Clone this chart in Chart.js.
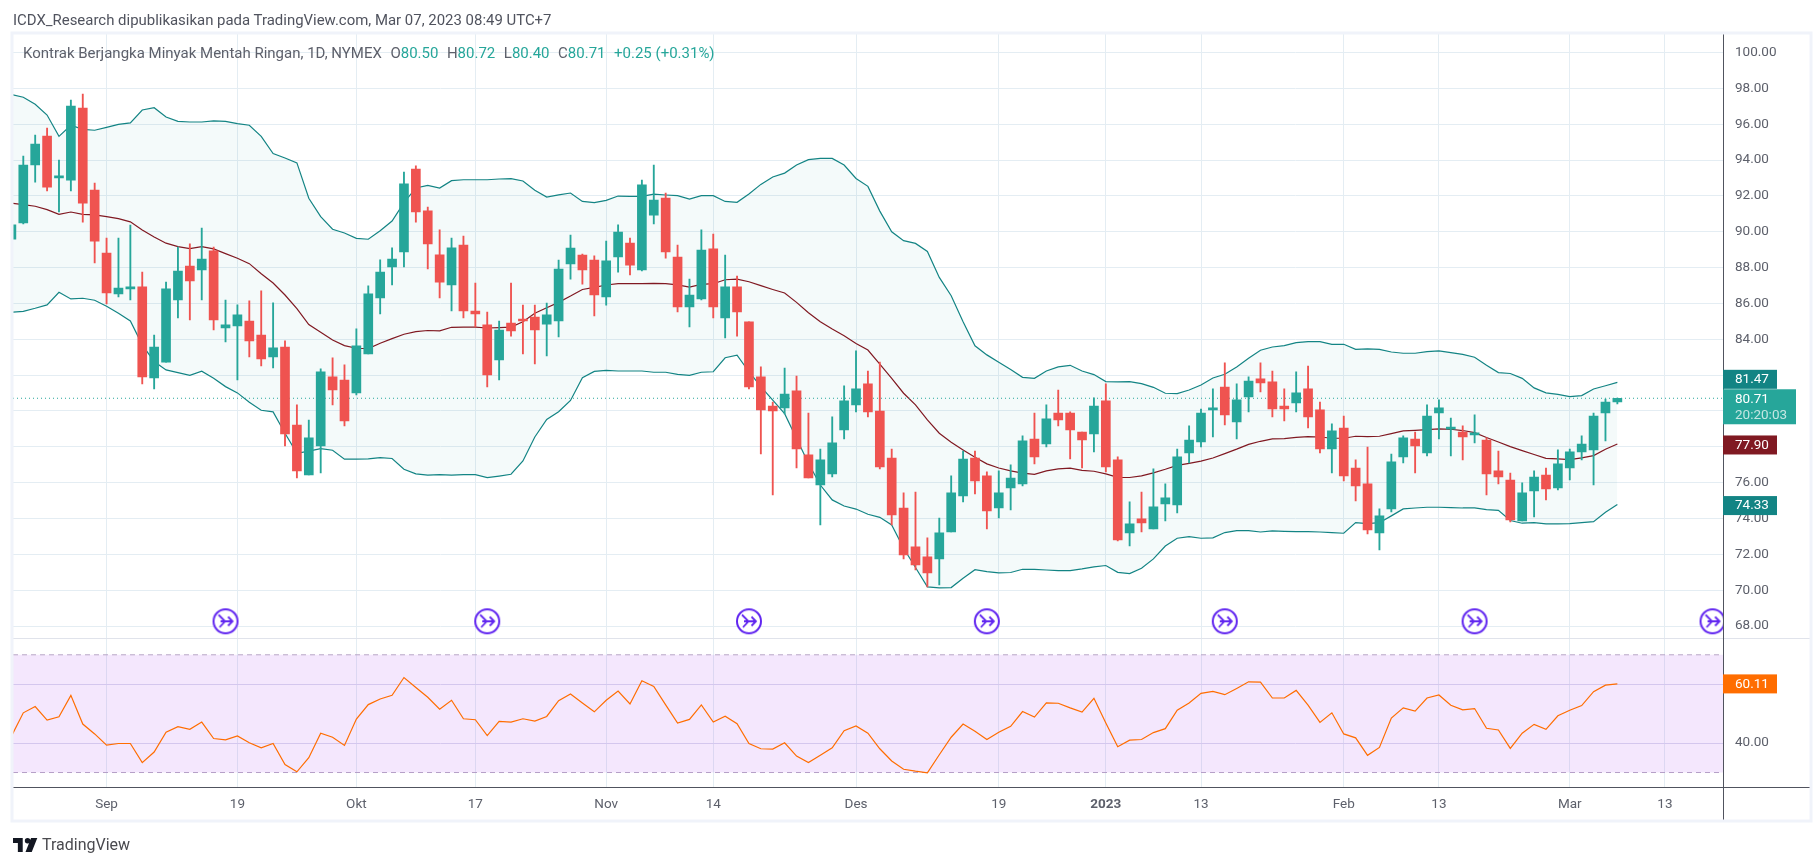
<!DOCTYPE html>
<html>
<head>
<meta charset="utf-8">
<title>Kontrak Berjangka Minyak Mentah Ringan</title>
<script src="https://cdn.jsdelivr.net/npm/chart.js@4"></script>
<style>
    html, body { margin: 0; padding: 0; background: #fff; width: 1813px; height: 866px; overflow: hidden; }
    body { font-family: Roboto, sans-serif; position: relative; }
    #chart { position: absolute; left: 0; top: 0; }
    .txt { position: absolute; white-space: pre; line-height: 18px; }
    #publisher { left: 13px; top: 11px; font-size: 14.95px; color: #50535e; }
    #legend { left: 23px; top: 44px; font-size: 15px; color: #5d606b; }
    #legend span { color: #26a69a; }
    #legend b { font-weight: normal; margin-left: 8.5px; }
    #brand { left: 42px; top: 836px; font-size: 16px; color: #4a4a4f; }
    #logo { position: absolute; left: 13px; top: 838px; }
</style>
</head>
<body>
<canvas id="chart" width="1813" height="866"></canvas>
<div class="txt" id="publisher">ICDX_Research dipublikasikan pada TradingView.com, Mar 07, 2023 08:49 UTC+7</div>
<div class="txt" id="legend">Kontrak Berjangka Minyak Mentah Ringan, 1D, NYMEX<b>O<span>80.50</span></b><b>H<span>80.72</span></b><b>L<span>80.40</span></b><b>C<span>80.71</span></b><b><span>+0.25 (+0.31%)</span></b></div>
<svg id="logo" width="25" height="14" viewBox="0 0 36 20"><path fill="#131722" d="M0 0h14v20H7V7H0zM21 0a4 4 0 1 1 0 8 4 4 0 0 1 0-8zM26 0h9l-8 20h-9z"/></svg>
<div class="txt" id="brand">TradingView</div>
<script>
    // Daily candles
    const opens = [89.59,90.49,93.72,95.34,93.00,92.88,96.90,92.33,88.81,86.53,86.81,86.92,81.84,82.73,86.19,88.09,87.87,88.93,84.63,84.74,85.02,84.24,83.02,83.57,79.22,76.43,78.05,81.90,81.73,81.01,83.18,86.31,88.04,88.87,93.50,91.16,88.71,87.03,89.26,85.58,84.80,82.85,84.91,85.08,85.24,84.85,85.02,88.20,88.70,88.42,86.36,88.59,89.37,87.87,90.93,91.88,88.59,85.80,86.25,89.04,85.19,86.92,84.97,81.90,80.28,80.17,81.12,77.55,75.88,76.49,78.94,80.34,81.51,80.00,77.38,74.59,72.42,71.86,71.75,73.25,75.26,77.38,76.38,74.59,75.71,75.93,78.44,78.16,79.89,79.89,78.83,78.72,80.56,77.27,73.20,73.98,73.42,74.82,74.76,77.66,78.27,80.06,81.34,79.39,80.78,81.79,81.62,80.28,80.45,81.23,80.06,77.88,79.05,76.82,75.93,73.20,74.54,77.44,78.44,77.66,79.89,78.99,78.83,78.66,78.38,76.66,76.15,73.87,75.54,76.43,75.71,76.82,77.72,77.83,79.89,80.50];
    const highs = [90.50,94.22,95.39,95.78,94.00,97.35,97.68,92.72,89.65,89.65,90.37,87.75,84.24,87.19,89.15,89.32,90.21,89.15,86.19,85.92,86.14,86.70,86.03,83.91,80.34,79.50,82.35,82.96,82.57,84.58,86.98,88.43,89.10,93.33,93.67,91.38,90.10,89.65,89.76,87.14,85.52,85.02,87.14,85.91,85.91,86.02,88.42,89.82,88.76,88.65,89.48,90.38,89.65,92.88,93.72,92.16,89.26,87.36,90.10,89.87,88.70,87.53,84.97,82.46,80.50,82.40,81.95,79.89,77.88,79.67,81.40,83.35,82.23,82.73,77.88,75.43,75.48,72.92,74.03,76.38,77.77,77.77,76.60,76.66,76.99,78.61,79.89,80.34,81.17,79.95,78.83,80.73,81.51,77.44,74.93,75.48,76.77,75.93,77.88,79.17,80.11,81.23,82.68,81.51,81.90,82.68,82.23,81.23,82.18,82.51,80.50,79.28,79.72,77.27,77.99,74.54,77.60,78.61,78.83,80.34,80.62,79.61,79.17,79.78,78.50,77.77,76.54,75.99,76.66,76.82,77.83,77.88,78.61,79.89,80.67,80.72];
    const lows = [89.50,90.43,92.77,92.27,91.10,92.27,90.54,88.26,85.97,86.36,86.19,81.51,81.23,82.73,85.19,85.08,86.19,84.52,83.85,81.73,83.02,82.51,82.40,78.05,76.27,76.43,76.55,80.34,79.17,80.90,83.18,85.41,87.03,88.04,90.54,87.92,86.31,85.58,85.19,84.69,81.34,81.73,84.18,83.18,82.62,83.07,84.13,87.36,87.08,85.30,85.91,87.75,87.59,87.81,90.43,88.53,85.52,84.69,86.19,85.19,84.07,84.18,81.23,77.60,75.32,79.83,76.82,76.27,73.64,76.32,78.44,79.95,79.67,76.77,73.64,71.75,71.13,70.19,70.30,73.25,74.93,75.37,73.42,74.03,74.48,75.82,77.05,77.99,79.17,77.32,76.82,77.72,76.60,72.75,72.47,73.25,73.42,73.87,74.31,77.10,77.99,78.55,79.22,78.44,79.95,81.06,79.67,79.44,79.95,79.05,77.66,76.54,76.10,74.98,73.14,72.25,74.37,77.10,76.54,77.49,78.44,77.49,77.27,78.22,75.32,75.93,73.81,73.87,74.09,75.04,75.60,76.15,77.27,75.88,78.33,80.40];
    const closes = [90.38,93.72,94.89,92.49,93.05,97.01,91.60,89.48,86.58,86.86,86.92,81.90,83.57,86.81,87.81,87.25,88.48,85.08,84.80,85.36,83.91,82.90,83.52,78.72,76.66,78.50,82.18,81.18,79.45,83.63,86.53,87.75,88.48,92.67,91.10,89.32,87.19,89.10,85.58,85.41,82.01,84.52,84.46,85.02,84.52,85.36,87.92,89.09,87.87,86.47,88.37,89.98,88.14,92.61,91.77,88.87,85.80,86.47,88.98,85.80,86.92,85.52,81.34,80.06,80.00,80.95,77.88,76.27,77.27,78.22,80.56,81.23,79.95,76.88,74.20,71.97,71.41,70.97,73.20,75.43,77.32,76.10,74.42,75.43,76.26,78.33,77.44,79.56,79.50,78.94,78.38,80.28,76.88,72.81,73.70,73.76,74.65,75.15,77.44,78.38,79.89,80.17,79.78,80.62,81.67,81.56,80.11,80.11,81.01,79.67,77.88,78.89,76.38,75.82,73.36,74.15,77.16,78.50,78.05,79.72,80.17,79.05,78.55,78.78,76.49,76.32,73.92,75.43,76.32,75.65,77.05,77.72,78.16,79.72,80.50,80.71];

    // Bollinger bands
    const bbUpper = [97.66,97.50,97.11,96.51,95.32,95.94,95.71,95.66,95.82,95.99,96.07,96.79,96.92,96.40,96.16,96.12,96.12,96.18,96.16,96.03,95.94,95.32,94.36,94.11,93.84,91.87,90.84,90.14,89.93,89.63,89.58,90.06,90.60,91.62,92.44,92.59,92.44,92.85,92.90,92.90,92.90,92.94,92.96,92.83,92.31,91.93,92.06,92.16,91.69,91.62,91.75,91.99,91.97,91.97,92.10,92.05,92.01,91.82,92.01,92.01,91.69,91.64,92.10,92.64,93.05,93.27,93.72,94.02,94.09,94.09,93.72,92.97,92.53,91.15,90.00,89.50,89.35,88.90,87.45,86.43,84.98,83.64,83.13,82.72,82.31,81.88,81.82,82.23,82.46,82.55,82.23,82.03,81.64,81.62,81.64,81.53,81.32,80.99,80.97,81.17,81.45,81.84,82.05,82.46,82.94,83.39,83.57,83.65,83.81,83.87,83.87,83.72,83.72,83.44,83.46,83.44,83.29,83.22,83.22,83.31,83.35,83.26,83.16,83.00,82.55,82.14,82.09,81.82,81.29,81.01,80.93,80.80,80.86,81.23,81.41,81.60];
    const bbBasis = [91.59,91.51,91.42,91.23,90.97,91.10,90.97,90.94,90.84,90.73,90.55,90.10,89.71,89.36,89.17,89.06,89.17,89.04,88.78,88.52,88.22,87.66,87.14,86.47,85.71,84.82,84.39,83.96,83.65,83.50,83.48,83.78,84.04,84.28,84.43,84.49,84.47,84.67,84.68,84.68,84.63,84.65,84.68,84.98,85.45,85.76,86.06,86.41,86.78,86.90,87.03,87.10,87.10,87.10,87.12,87.10,87.04,86.91,87.06,87.10,87.32,87.36,87.21,86.99,86.78,86.58,86.06,85.48,84.98,84.57,84.20,83.77,83.40,82.62,81.82,80.99,80.34,79.50,78.76,78.26,77.83,77.42,77.05,76.82,76.66,76.53,76.47,76.66,76.77,76.81,76.69,76.64,76.49,76.30,76.29,76.38,76.55,76.75,76.97,77.08,77.20,77.38,77.62,77.87,78.14,78.31,78.44,78.46,78.53,78.57,78.55,78.48,78.48,78.59,78.57,78.59,78.74,78.89,78.92,78.96,79.00,78.98,78.91,78.79,78.52,78.27,78.01,77.79,77.57,77.36,77.33,77.29,77.38,77.51,77.87,78.16];
    const bbLower = [85.51,85.56,85.73,85.92,86.62,86.25,86.29,86.18,85.84,85.45,85.02,83.69,82.76,82.29,82.14,81.99,82.22,81.83,81.36,81.01,80.49,80.04,79.95,78.76,77.64,77.76,77.90,77.81,77.31,77.31,77.33,77.40,77.35,76.75,76.49,76.42,76.45,76.42,76.45,76.45,76.28,76.37,76.47,77.21,78.55,79.53,79.96,80.59,81.86,82.21,82.27,82.23,82.23,82.23,82.16,82.16,82.04,81.99,82.16,82.19,82.97,83.12,82.19,81.36,80.61,79.85,78.47,77.08,75.87,75.04,74.70,74.53,74.24,74.07,73.64,72.34,71.27,70.19,70.13,70.15,70.67,71.15,71.04,70.97,70.99,71.17,71.17,71.13,71.10,71.10,71.19,71.30,71.38,71.00,70.93,71.23,71.75,72.47,72.90,72.99,72.90,72.92,73.22,73.33,73.33,73.25,73.31,73.29,73.27,73.27,73.25,73.22,73.18,73.77,73.72,73.77,74.15,74.54,74.59,74.63,74.63,74.61,74.59,74.59,74.50,74.46,73.89,73.74,73.77,73.70,73.70,73.72,73.77,73.83,74.35,74.78];

    // RSI pane
    const rsiValues = [42.33,50.28,52.41,47.82,48.94,56.22,46.47,43.11,39.30,39.86,39.86,33.36,36.95,43.67,45.58,44.68,47.15,41.54,41.09,42.44,40.09,38.41,39.86,32.69,30.23,35.04,43.34,41.99,39.19,48.15,53.08,54.99,56.22,62.27,58.91,55.55,51.51,54.54,48.27,47.93,42.55,47.37,47.15,48.27,47.48,49.05,54.43,56.67,53.64,50.62,54.54,57.68,53.31,61.15,59.25,52.97,46.81,48.04,52.97,47.15,49.16,46.59,39.86,38.07,37.96,40.09,35.60,33.36,35.83,38.41,44.23,45.80,43.34,38.07,33.92,31.12,30.45,29.89,36.05,41.99,46.47,44.01,41.21,43.67,45.69,50.73,48.83,53.64,53.53,51.96,50.51,55.21,46.81,38.74,40.98,41.21,43.56,44.90,51.18,53.64,56.89,57.56,56.44,58.57,60.81,60.70,55.32,55.32,57.90,52.86,47.03,50.28,43.11,41.77,35.83,38.52,48.49,51.96,50.84,55.32,56.33,52.86,51.29,51.74,45.02,44.46,38.18,43.34,46.36,44.68,49.27,51.18,52.75,57.45,59.69,60.11];
    const rsiBandLevels = [70, 30];

    // Axis ticks
    const timeTicks = [8, 19, 29, 39, 50, 59, 71, 83, 92, 100, 112, 120, 131, 139];
    const timeLabels = ['Sep', '19', 'Okt', '17', 'Nov', '14', 'Des', '19', '2023', '13', 'Feb', '13', 'Mar', '13'];
    const priceTicks = [68, 70, 72, 74, 76, 78, 80, 82, 84, 86, 88, 90, 92, 94, 96, 98, 100];
    const rsiTicks = [40, 60];

    // Dividend/event markers along the bottom of the price pane
    const eventSlots = [18, 40, 62, 82, 102, 123, 143];
    const eventLevel = 68.27;

    const labelUpper = '81.47';
    const labelLower = '74.33';
    const labelBasis = '77.90';
    const labelLast = '80.71';
    const labelCountdown = '20:20:03';
    const labelRsi = '60.11';

    const UP = '#26a69a', DOWN = '#ef5350', BAND = '#138484', BASIS = '#801922', RSI = '#ff6d00';
    const GRID = '#e4edf3', AXIS = '#50535e', PANE = '#e0e3eb', TICK = '#5d606b';
    const xMin = 0.135, xMax = 143.88;

    const slots = closes.map((c, i) => i);
    const candleColors = closes.map((c, i) => c >= opens[i] ? UP : DOWN);

    function xy(values) {
        return values.map((v, i) => ({ x: i, y: v }));
    }

    function flat(level) {
        return [{ x: xMin, y: level }, { x: xMax, y: level }];
    }

    function setTicks(values) {
        return axis => { axis.ticks = values.map(v => ({ value: v })); };
    }

    // little purple circle used as the event marker
    function eventIcon() {
        const c = document.createElement('canvas');
        c.width = 28;
        c.height = 28;
        const g = c.getContext('2d');
        g.strokeStyle = '#6126f0';
        g.fillStyle = '#fff';
        g.lineWidth = 2;
        g.beginPath();
        g.arc(14, 14, 12, 0, Math.PI * 2);
        g.fill();
        g.stroke();
        g.lineWidth = 1.8;
        g.beginPath();
        g.moveTo(7, 7.5);
        g.lineTo(13.5, 14);
        g.lineTo(8, 20);
        g.moveTo(9, 14);
        g.lineTo(21, 14);
        g.moveTo(16.5, 9.5);
        g.lineTo(21, 14);
        g.lineTo(16.5, 18.5);
        g.stroke();
        return c;
    }

    function tag(ctx, text, right, centre, color) {
        const h = 19;
        ctx.fillStyle = color;
        ctx.fillRect(1723, centre - h / 2, right - 1723, h);
        ctx.fillStyle = '#fff';
        ctx.fillText(text, 1735, centre + 0.5);
    }

    // pane separators, outer frame and the value tags on the right
    const chrome = {
        id: 'chrome',
        afterDraw(chart) {
            const ctx = chart.ctx;
            const y = chart.scales.y, r = chart.scales.rsi;
            ctx.save();
            ctx.fillStyle = PANE;
            ctx.fillRect(13, 638, 1797, 1);
            ctx.fillStyle = AXIS;
            ctx.fillRect(13, 787, 1797, 1);
            ctx.fillRect(1723, 34, 1, 786);
            ctx.strokeStyle = '#f0f3fa';
            ctx.lineWidth = 3;
            ctx.strokeRect(12, 33, 1799, 788);

            ctx.font = '13.5px Roboto, sans-serif';
            ctx.textBaseline = 'middle';
            ctx.textAlign = 'left';
            const last = closes.length - 1;
            tag(ctx, labelUpper, 1777, y.getPixelForValue(bbUpper[last]) - 3, BAND);
            tag(ctx, labelBasis, 1777, y.getPixelForValue(bbBasis[last]) + 1, BASIS);
            tag(ctx, labelLower, 1777, y.getPixelForValue(bbLower[last]) + 1, BAND);
            tag(ctx, labelRsi, 1777, r.getPixelForValue(rsiValues[last]), RSI);

            const top = y.getPixelForValue(closes[last]) - 9;
            ctx.fillStyle = UP;
            ctx.fillRect(1723, top, 73, 35);
            ctx.fillStyle = '#fff';
            ctx.fillText(labelLast, 1735, top + 10);
            ctx.fillStyle = '#c4e6e2';
            ctx.fillText(labelCountdown, 1735, top + 26);
            ctx.restore();
        }
    };

    new Chart(document.getElementById('chart'), {
        type: 'bar',
        plugins: [chrome],
        data: {
            labels: slots,
            datasets: [
                {
                    type: 'bar',
                    order: 1,
                    grouped: false,
                    yAxisID: 'y',
                    data: slots.map(i => ({ x: i, y: [opens[i], closes[i]] })),
                    backgroundColor: candleColors,
                    barThickness: 9,
                    minBarLength: 2
                },
                {
                    type: 'bar',
                    order: 2,
                    grouped: false,
                    yAxisID: 'y',
                    data: slots.map(i => ({ x: i, y: [lows[i], highs[i]] })),
                    backgroundColor: candleColors,
                    barThickness: 1.2
                },
                {
                    type: 'line',
                    order: 3,
                    yAxisID: 'y',
                    data: flat(closes[closes.length - 1]),
                    borderColor: UP,
                    borderWidth: 1,
                    borderDash: [1, 3],
                    pointRadius: 0
                },
                {
                    type: 'line',
                    order: 4,
                    yAxisID: 'y',
                    data: xy(bbBasis),
                    borderColor: BASIS,
                    borderWidth: 1.2,
                    pointRadius: 0,
                    tension: 0
                },
                {
                    type: 'line',
                    order: 5,
                    yAxisID: 'y',
                    data: xy(bbUpper),
                    borderColor: BAND,
                    borderWidth: 1.2,
                    pointRadius: 0,
                    backgroundColor: 'rgba(38,166,154,0.05)',
                    fill: '+1'
                },
                {
                    type: 'line',
                    order: 5,
                    yAxisID: 'y',
                    data: xy(bbLower),
                    borderColor: BAND,
                    borderWidth: 1.2,
                    pointRadius: 0
                },
                {
                    type: 'line',
                    order: 6,
                    yAxisID: 'y',
                    data: eventSlots.map(s => ({ x: s, y: eventLevel })),
                    showLine: false,
                    pointStyle: eventIcon(),
                    pointRadius: 13
                },
                {
                    type: 'line',
                    order: 8,
                    yAxisID: 'rsi',
                    data: flat(rsiBandLevels[0]),
                    borderColor: '#b7a6c6',
                    borderWidth: 1,
                    borderDash: [5, 4],
                    pointRadius: 0,
                    backgroundColor: 'rgba(155,39,240,0.11)',
                    fill: '+1'
                },
                {
                    type: 'line',
                    order: 8,
                    yAxisID: 'rsi',
                    data: flat(rsiBandLevels[1]),
                    borderColor: '#b7a6c6',
                    borderWidth: 1,
                    borderDash: [5, 4],
                    pointRadius: 0
                },
                {
                    type: 'line',
                    order: 7,
                    yAxisID: 'rsi',
                    data: xy(rsiValues),
                    borderColor: RSI,
                    borderWidth: 1.2,
                    pointRadius: 0
                }
            ]
        },
        options: {
            responsive: false,
            animation: false,
            devicePixelRatio: 1,
            layout: { autoPadding: false, padding: { left: 13, top: 34, right: 3, bottom: 46 } },
            plugins: { legend: { display: false }, tooltip: { enabled: false }, title: { display: false } },
            scales: {
                x: {
                    type: 'linear',
                    offset: false,
                    min: xMin,
                    max: xMax,
                    afterBuildTicks: setTicks(timeTicks),
                    afterFit: axis => { axis.height = 33; },
                    grid: { color: GRID, drawTicks: false, offset: false },
                    border: { display: false },
                    ticks: {
                        autoSkip: false,
                        maxRotation: 0,
                        padding: 10,
                        color: TICK,
                        font: ctx => ({
                            family: 'Roboto, sans-serif',
                            size: 13.5,
                            weight: ctx.tick && timeLabels[timeTicks.indexOf(ctx.tick.value)] === '2023' ? 'bold' : 'normal'
                        }),
                        callback: v => timeLabels[timeTicks.indexOf(v)]
                    }
                },
                y: {
                    position: 'right',
                    stack: 'panes',
                    stackWeight: 604.3,
                    weight: 0,
                    min: 67.32,
                    max: 101.03,
                    afterBuildTicks: setTicks(priceTicks),
                    afterFit: axis => { axis.width = 87; },
                    grid: { color: GRID, drawTicks: false },
                    border: { display: false },
                    ticks: {
                        autoSkip: false,
                        padding: 12,
                        color: TICK,
                        font: { family: 'Roboto, sans-serif', size: 13.5 },
                        callback: v => v.toFixed(2)
                    }
                },
                rsi: {
                    position: 'right',
                    stack: 'panes',
                    stackWeight: 148.7,
                    weight: 1,
                    min: 25.08,
                    max: 75.6,
                    afterBuildTicks: setTicks(rsiTicks),
                    afterFit: axis => { axis.width = 87; },
                    grid: { color: '#dcdcef', drawTicks: false },
                    border: { display: false },
                    ticks: {
                        autoSkip: false,
                        padding: 12,
                        color: TICK,
                        font: { family: 'Roboto, sans-serif', size: 13.5 },
                        callback: v => v.toFixed(2)
                    }
                }
            }
        }
    });
</script>
</body>
</html>
